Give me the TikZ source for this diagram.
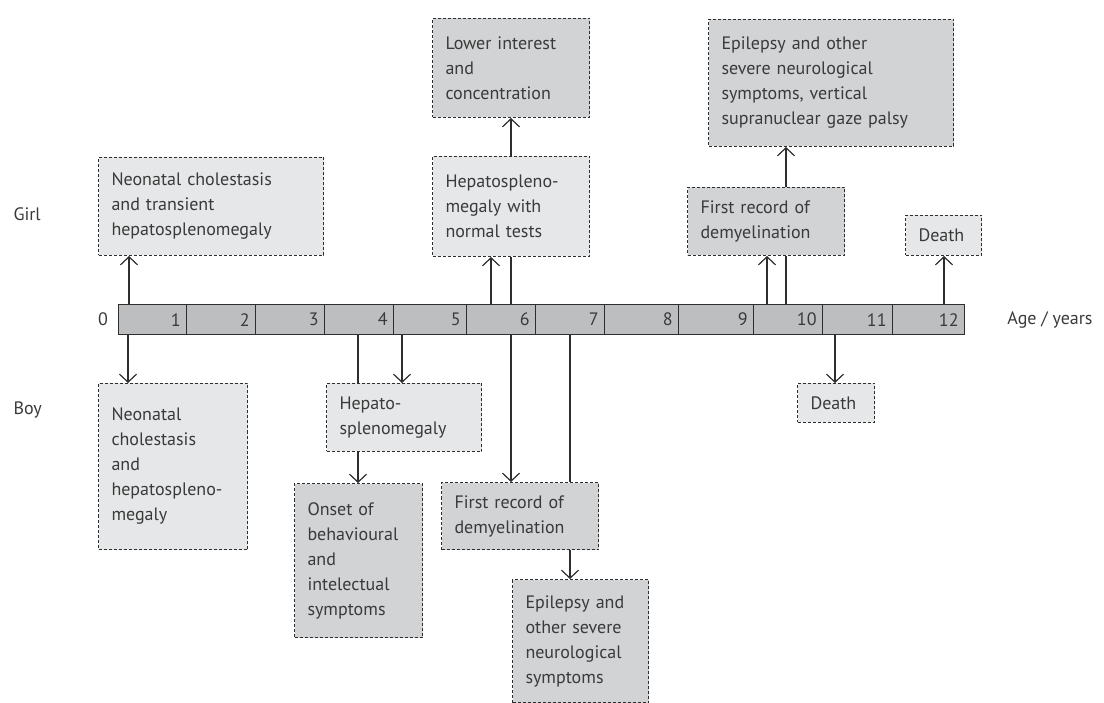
\documentclass[tikz,border=0pt]{standalone}
\usepackage{fontspec}
\setmainfont{PT Sans}
\usetikzlibrary{arrows.meta}
\definecolor{barfill}{HTML}{BCBEC0}
\definecolor{lightfill}{HTML}{E6E7E8}
\definecolor{darkfill}{HTML}{D1D3D4}
\definecolor{ink}{HTML}{3A3A3A}
\definecolor{edge}{HTML}{2E2E2E}
\begin{document}
\begin{tikzpicture}[x=1pt,y=-1pt,
  font=\fontsize{18}{25}\selectfont, text=ink,
  evbox/.style={draw=edge, line width=1pt, dash pattern=on 3pt off 2pt, align=left, anchor=north west, inner xsep=13pt, inner ysep=0pt},
  light/.style={evbox, fill=lightfill},
  darkb/.style={evbox, fill=darkfill},
  cell/.style={draw=edge, line width=1.2pt, fill=barfill, anchor=north west, minimum height=30pt, inner xsep=6pt, inner ysep=0pt, align=right},
  arr/.style={draw=edge, line width=1.2pt, -{Straight Barb[length=8pt,width=17pt]}},
  lin/.style={draw=edge, line width=1.2pt}]
\useasboundingbox (0,0) rectangle (1104,703);

% timeline cells
\node[cell, text width=56pt] (c1) at (118,304) {1};
\node[cell, text width=57pt] (c2) at (186,304) {2};
\node[cell, text width=57pt] (c3) at (255,304) {3};
\node[cell, text width=57pt] (c4) at (324,304) {4};
\node[cell, text width=61pt] (c5) at (393,304) {5};
\node[cell, text width=57pt] (c6) at (466,304) {6};
\node[cell, text width=57pt] (c7) at (535,304) {7};
\node[cell, text width=62pt] (c8) at (604,304) {8};
\node[cell, text width=63pt] (c9) at (678,304) {9};
\node[cell, text width=57pt] (c10) at (753,304) {10};
\node[cell, text width=58pt] (c11) at (822,304) {11};
\node[cell, text width=60pt] (c12) at (892,304) {12};

% labels
\node (zero) at (103,319) {0};
\node[anchor=west] (girl) at (10,214) {Girl};
\node[anchor=west] (boy) at (10,410) {Boy};
\node (age) at (1050,320) {Age / years};

% girl boxes
\node[light, text width=199pt, minimum height=98pt] (g1) at (98,157) {Neonatal cholestasis\\and transient\\hepatosplenomegaly};
\node[light, text width=131pt, minimum height=100pt] (g2) at (432,156) {Hepatospleno-\\megaly with\\normal tests};
\node[darkb, text width=131pt, minimum height=99pt] (g3) at (432,18) {Lower interest\\and\\concentration};
\node[darkb, text width=131pt, minimum height=68pt] (g4) at (687,187) {First record of\\demyelination};
\node[darkb, text width=219pt, minimum height=127pt] (g5) at (708,19) {Epilepsy and other\\severe neurological\\symptoms, vertical\\supranuclear gaze palsy};
\node[light, text width=50pt, minimum height=40pt] (g6) at (905,215) {Death};

% boy boxes
\node[light, text width=123pt, minimum height=166pt] (b1) at (98,383) {Neonatal\\cholestasis\\and\\hepatospleno-\\megaly};
\node[light, text width=129pt, minimum height=68pt] (b2) at (326,383) {Hepato-\\splenomegaly};
\node[darkb, text width=102pt, minimum height=154pt] (b3) at (294,483) {Onset of\\behavioural\\and\\intelectual\\symptoms};
\node[darkb, text width=131pt, minimum height=67pt] (b4) at (441,482) {First record of\\demyelination};
\node[darkb, text width=110pt, minimum height=123pt] (b5) at (512,579) {Epilepsy and\\other severe\\neurological\\symptoms};
\node[light, text width=51pt, minimum height=39pt] (b6) at (797,383) {Death};

% connector x positions
\coordinate (xg1) at (129,0);
\coordinate (xg2) at (491,0);
\coordinate (xg3) at (511,0);
\coordinate (xg4) at (767,0);
\coordinate (xg5) at (786,0);
\coordinate (xg6) at (944,0);
\coordinate (xb1) at (128,0);
\coordinate (xb2) at (402,0);
\coordinate (xb3) at (358,0);
\coordinate (xb4) at (511,0);
\coordinate (xb5) at (570,0);
\coordinate (xb6) at (835,0);

% girl connectors
\draw[arr] (xg1 |- c1.north) -- (xg1 |- g1.south);
\draw[arr] (xg2 |- c6.north) -- (xg2 |- g2.south);
\draw[lin] (xg3 |- c6.north) -- (xg3 |- g2.south);
\draw[arr] (xg3 |- g2.north) -- (xg3 |- g3.south);
\draw[arr] (xg4 |- c10.north) -- (xg4 |- g4.south);
\draw[lin] (xg5 |- c10.north) -- (xg5 |- g4.south);
\draw[arr] (xg5 |- g4.north) -- (xg5 |- g5.south);
\draw[arr] (xg6 |- c12.north) -- (xg6 |- g6.south);

% boy connectors
\draw[arr] (xb1 |- c1.south) -- (xb1 |- b1.north);
\draw[arr] (xb2 |- c5.south) -- (xb2 |- b2.north);
\draw[lin] (xb3 |- c4.south) -- (xb3 |- b2.north);
\draw[arr] (xb3 |- b2.south) -- (xb3 |- b3.north);
\draw[arr] (xb4 |- c6.south) -- (xb4 |- b4.north);
\draw[lin] (xb5 |- c7.south) -- (xb5 |- b4.north);
\draw[arr] (xb5 |- b4.south) -- (xb5 |- b5.north);
\draw[arr] (xb6 |- c11.south) -- (xb6 |- b6.north);
\end{tikzpicture}
\end{document}
